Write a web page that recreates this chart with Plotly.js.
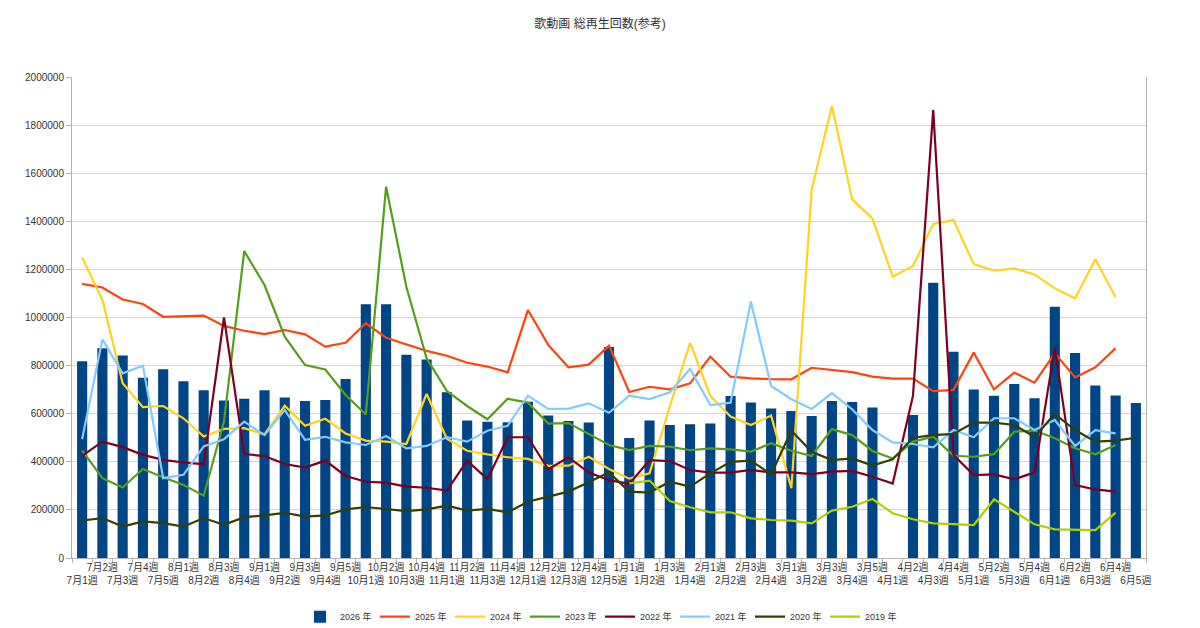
<!DOCTYPE html>
<html>
<head>
<meta charset="utf-8">
<script src="https://cdn.plot.ly/plotly-3.0.1.min.js"></script>
<style>
  html, body { margin: 0; padding: 0; background: #ffffff; }
  #chart { width: 1200px; height: 628px; }
</style>
</head>
<body>
<div id="chart"></div>
<script>
// Weekly categories, July through June
const weeks = [
  '7月1週','7月2週','7月3週','7月4週','7月5週',
  '8月1週','8月2週','8月3週','8月4週',
  '9月1週','9月2週','9月3週','9月4週','9月5週',
  '10月1週','10月2週','10月3週','10月4週',
  '11月1週','11月2週','11月3週','11月4週',
  '12月1週','12月2週','12月3週','12月4週','12月5週',
  '1月1週','1月2週','1月3週','1月4週',
  '2月1週','2月2週','2月3週','2月4週',
  '3月1週','3月2週','3月3週','3月4週','3月5週',
  '4月1週','4月2週','4月3週','4月4週',
  '5月1週','5月2週','5月3週','5月4週',
  '6月1週','6月2週','6月3週','6月4週','6月5週'
];

// Total plays per week (thousands)
const y2026 = [818,872,842,749,785,735,698,655,662, 698,667,653,657,744,1055,1055,845,825,
  689,572,567,564,650,592,570,563,877, 499,572,553,556,559,674,647,622,611,
  590,653,649,626,null,595,1145,858,701, 675,723,664,1045,852,717,676,644];
const y2025 = [1140,1125,1075,1056,1003,1005,1008,965,945, 931,948,930,879,895,976,916,890,861,
  841,812,796,772,1031,886,793,804,883, 690,712,701,726,837,754,747,744,743,
  791,782,773,754,746,746,694,699,854, 701,771,729,851,751,793,872,null];
const y2024 = [1250,1073,727,627,632,581,505,537,540, 514,633,550,579,518,488,484,474,682,
  496,446,431,419,412,383,384,421,370, 330,352,630,895,674,588,553,592,290,
  1533,1879,1491,1412,1170,1214,1389,1405,1222, 1195,1204,1179,1121,1080,1242,1084,null];
const y2023 = [447,332,293,370,336,304,259,567,1276, 1135,920,802,784,678,597,1544,1128,830,
  694,632,577,662,646,559,561,514,470, 449,466,463,448,456,452,442,477,446,
  424,536,511,445,414,484,504,425,421, 432,525,530,498,456,431,470,null];
const y2022 = [425,484,461,429,408,397,390,1000,432, 424,391,376,405,341,317,313,297,292,
  280,405,328,502,502,369,419,355,324, 308,407,403,366,355,355,366,356,356,
  349,359,362,338,310,674,1863,428,345, 348,327,356,875,303,285,276,null];
const y2021 = [494,909,768,799,332,346,464,494,567, 511,615,491,504,481,470,507,456,466,
  502,484,529,550,675,620,621,643,604, 675,661,689,786,636,646,1066,715,660,
  620,685,618,532,481,474,460,532,502, 581,581,532,574,466,532,518,null];
const y2020 = [156,166,131,152,145,131,166,138,170, 177,188,172,177,202,212,202,195,202,
  218,197,204,190,234,255,276,315,356, 276,272,317,297,352,400,405,348,529,
  442,407,414,384,410,500,511,516,563, 563,553,504,599,532,484,488,500];
const y2019 = [null,null,null,null,null,null,null,null,null, null,null,null,null,null,null,null,null,null,
  null,null,null,null,null,null,null,null,null, 310,322,237,211,190,190,165,158,155,
  144,197,213,245,186,161,144,141,137, 244,193,140,119,116,116,189,null];

const yTicks = [0,200000,400000,600000,800000,1000000,1200000,1400000,1600000,1800000,2000000];

const toCount = arr => arr.map(v => v === null ? null : v * 1000);

const lineSeries = [
  { name: '2025 年', data: y2025, color: '#ff420e' },
  { name: '2024 年', data: y2024, color: '#ffd320' },
  { name: '2023 年', data: y2023, color: '#579d1c' },
  { name: '2022 年', data: y2022, color: '#7e0021' },
  { name: '2021 年', data: y2021, color: '#83caff' },
  { name: '2020 年', data: y2020, color: '#314004' },
  { name: '2019 年', data: y2019, color: '#aecf00' }
];

const traces = [{
  type: 'bar',
  name: '2026 年',
  x: weeks,
  y: toCount(y2026),
  marker: { color: '#004586' }
}].concat(lineSeries.map(s => ({
  type: 'scatter',
  mode: 'lines',
  name: s.name,
  x: weeks,
  y: toCount(s.data),
  line: { color: s.color, width: 2.2 },
  connectgaps: false
})));

// Alternate week labels between two rows
const tickText = weeks.map((w, i) => i % 2 === 0 ? '<br>' + w : w);

const font = '"Liberation Sans", "Noto Sans CJK JP", sans-serif';

const layout = {
  width: 1200,
  height: 628,
  margin: { l: 72, r: 54, t: 77, b: 70 },
  paper_bgcolor: '#ffffff',
  plot_bgcolor: '#ffffff',
  font: { family: font, size: 10, color: '#333333' },
  title: {
    text: '歌動画 総再生回数(参考)',
    font: { family: font, size: 12, color: '#333333' },
    x: 0.5, xanchor: 'center',
    y: 0.962, yanchor: 'middle'
  },
  bargap: 0.5,
  showlegend: true,
  legend: {
    orientation: 'h',
    xref: 'container', yref: 'container',
    x: 0.5, xanchor: 'center',
    y: 0.018, yanchor: 'middle',
    font: { family: font, size: 9, color: '#333333' },
    traceorder: 'normal',
    itemwidth: 30,
    entrywidth: 30,
    entrywidthmode: 'pixels'
  },
  xaxis: {
    type: 'category',
    range: [-0.5, weeks.length - 0.5],
    tickmode: 'array',
    tickvals: weeks,
    ticktext: tickText,
    tickangle: 0,
    tickfont: { family: font, size: 10, color: '#333333' },
    ticks: 'outside',
    tickson: 'boundaries',
    ticklen: 4,
    tickcolor: '#b3b3b3',
    showgrid: false,
    showline: true,
    linecolor: '#b3b3b3',
    linewidth: 1,
    zeroline: false,
    automargin: false
  },
  yaxis: {
    range: [0, 2000000],
    tickmode: 'array',
    tickvals: yTicks,
    ticktext: yTicks.map(v => String(v)),
    tickfont: { family: font, size: 10, color: '#333333' },
    ticks: 'outside',
    ticklen: 5,
    tickcolor: '#b3b3b3',
    showgrid: true,
    gridcolor: '#d4d4d4',
    gridwidth: 1,
    showline: true,
    mirror: true,
    linecolor: '#b3b3b3',
    linewidth: 1,
    zeroline: false,
    automargin: false
  }
};

Plotly.newPlot('chart', traces, layout, { displayModeBar: false, staticPlot: true });
</script>
</body>
</html>
